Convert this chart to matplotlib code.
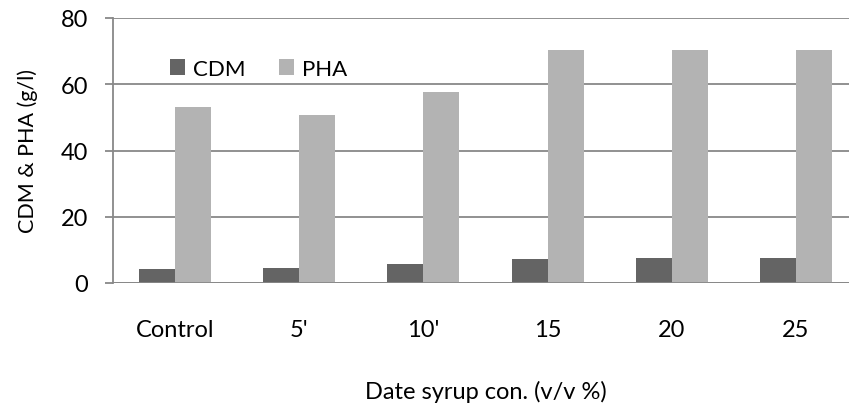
import matplotlib.pyplot as plt
import numpy as np

categories = ['Control', "5'", "10'", '15', '20', '25']
cdm = [4.3, 4.6, 5.8, 7.25, 7.45, 7.45]
pha = [53.2, 50.6, 57.6, 70.4, 70.4, 70.4]

plt.rcParams['font.family'] = ['Lato', 'DejaVu Sans']

W, H = 849, 406
fig = plt.figure(figsize=(W / 100, H / 100), dpi=100)
# axes runs a bit past the right edge of the figure (the reference is cropped)
ax = fig.add_axes([113 / W, 1 - 284 / H, 745 / W, 265 / H])

x = np.arange(len(categories))
bw = 0.29
ax.bar(x - bw / 2, cdm, bw, color='#646464', label='CDM', zorder=3)
ax.bar(x + bw / 2, pha, bw, color='#b3b3b3', label='PHA', zorder=3)

ax.set_xlim(-0.5, len(categories) - 0.5)
ax.set_ylim(0, 80)
ax.set_yticks(range(0, 81, 20))
ax.yaxis.grid(True, color='#888888', linewidth=1.3, zorder=0)

for s in ['top', 'right', 'bottom']:
    ax.spines[s].set_visible(False)
ax.spines['left'].set_color('#888888')
ax.spines['left'].set_linewidth(1.3)
ax.axhline(0, color='#888888', linewidth=1.3, zorder=4)

ax.set_xticks(x)
ax.set_xticklabels(categories, fontsize=17)
ax.tick_params(axis='x', length=0, pad=26)
ax.tick_params(axis='y', length=6, width=1.3, color='#888888', labelsize=17, pad=12)

ax.set_ylabel('CDM & PHA (g/l)', fontsize=15.5, va='center')
ax.yaxis.set_label_coords(-85 / 745, 0.5)
ax.set_xlabel('Date syrup con. (v/v %)', fontsize=17, va='center')
ax.xaxis.set_label_coords(0.5, -108 / 265)

ax.legend(loc='center left', bbox_to_anchor=(57 / 745, 214 / 265), ncol=2, frameon=False,
          fontsize=16, borderaxespad=0, borderpad=0,
          handlelength=0.68, handleheight=0.73, handletextpad=0.36,
          columnspacing=1.5)

fig.savefig('out.png', dpi=100)
